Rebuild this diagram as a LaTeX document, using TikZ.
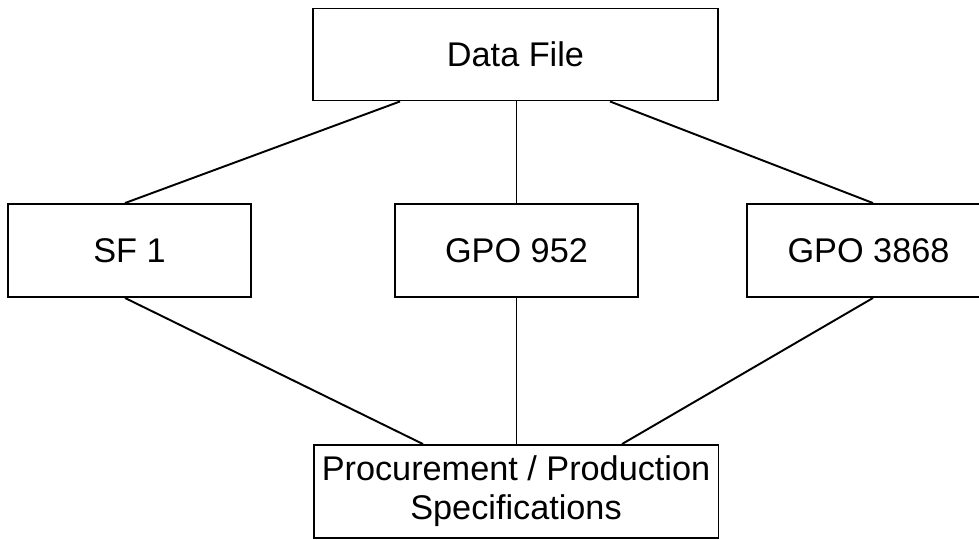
\documentclass[tikz,border=0pt]{standalone}
\usepackage{fontspec}
\setmainfont{Liberation Sans}
\usepackage{tikz}
\usetikzlibrary{positioning}

\begin{document}
\begin{tikzpicture}
	[x=0.02cm,y=-0.02cm,
	box/.style={rectangle,draw=black,line width=1.1pt,fill=white,
		inner sep=0pt,minimum width=4.86cm,minimum height=1.86cm,
		font=\fontsize{19.5}{22.1}\selectfont,align=center},
	wide/.style={box,minimum width=8.1cm,minimum height=1.84cm},
	link/.style={draw=black,line width=1.1pt}]
	\useasboundingbox (0,0) rectangle (979,539);
	\clip (0,0) rectangle (979,539);
	%cajas
	\node[wide] (data) at (515.5,54.5) {Data File};
	\node[box] (sf) at (129.5,250.5) {SF 1};
	\node[box] (gpoa) at (516.5,250.5) {GPO 952};
	\node[box] (gpob) at (868.5,250.5) {GPO 3868};
	\node[wide,minimum height=1.86cm] (spec) at (516,491.5) {Procurement / Production\\Specifications};
	%lineas
	\draw[link] ([xshift=-2.31cm]data.south) -- ([xshift=-0.09cm]sf.north);
	\draw[link] (data.south -| gpoa.north) -- (gpoa.north);
	\draw[link] ([xshift=1.89cm]data.south) -- ([xshift=0.09cm]gpob.north);
	\draw[link] ([xshift=-0.09cm]sf.south) -- ([xshift=-1.86cm]spec.north);
	\draw[link] (gpoa.south) -- (gpoa.south |- spec.north);
	\draw[link] ([xshift=0.09cm]gpob.south) -- ([xshift=2.12cm]spec.north);
\end{tikzpicture}
\end{document}
